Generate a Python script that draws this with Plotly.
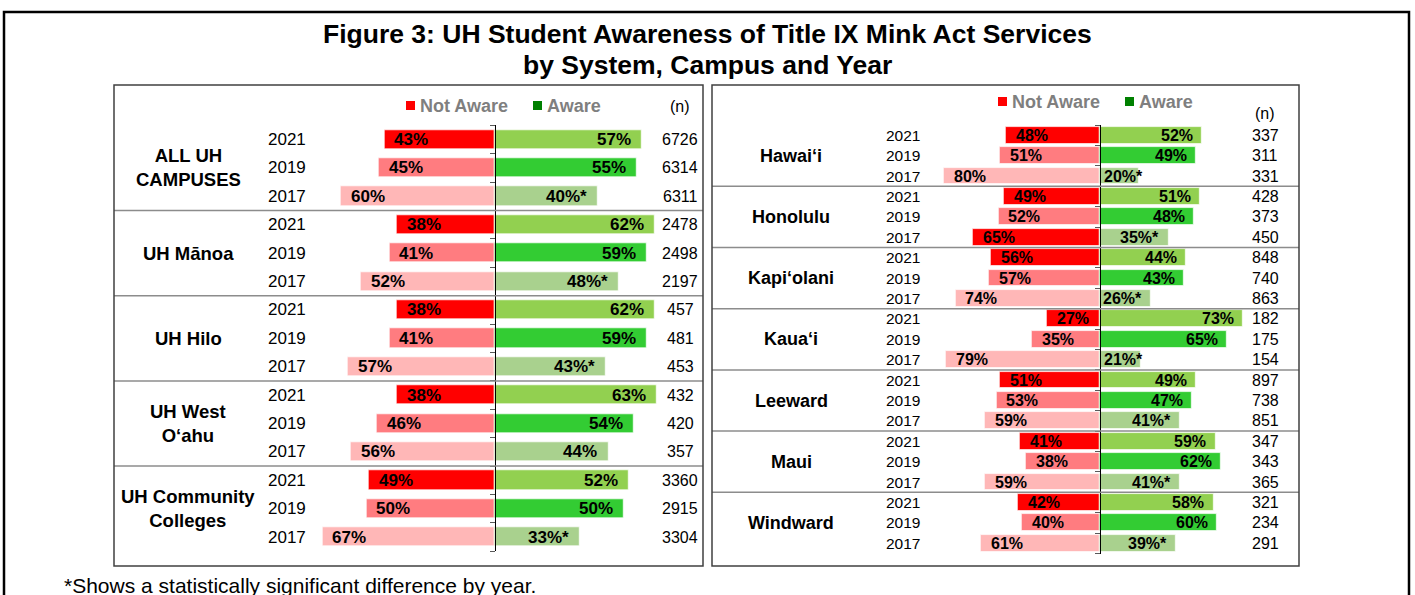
import plotly.graph_objects as go

W, H = 1415, 595
FONT = "Liberation Sans"

years = ["2021", "2019", "2017"]

# left panel: system / campus groups
left_groups = ["ALL UH<br>CAMPUSES", "UH Mānoa", "UH Hilo", "UH West<br>O‘ahu", "UH Community<br>Colleges"]
left_not_aware = [43, 45, 60, 38, 41, 52, 38, 41, 57, 38, 46, 56, 49, 50, 67]
left_aware = [57, 55, 40, 62, 59, 48, 62, 59, 43, 63, 54, 44, 52, 50, 33]
left_sig = [0, 0, 1, 0, 0, 1, 0, 0, 1, 0, 0, 0, 0, 0, 1]
left_n = [6726, 6314, 6311, 2478, 2498, 2197, 457, 481, 453, 432, 420, 357, 3360, 2915, 3304]

# right panel: community colleges
right_groups = ["Hawai‘i", "Honolulu", "Kapi‘olani", "Kaua‘i", "Leeward", "Maui", "Windward"]
right_not_aware = [48, 51, 80, 49, 52, 65, 56, 57, 74, 27, 35, 79, 51, 53, 59, 41, 38, 59, 42, 40, 61]
right_aware = [52, 49, 20, 51, 48, 35, 44, 43, 26, 73, 65, 21, 49, 47, 41, 59, 62, 41, 58, 60, 39]
right_sig = [0, 0, 1] * 7
right_n = [337, 311, 331, 428, 373, 450, 848, 740, 863, 182, 175, 154, 897, 738, 851,
           347, 343, 365, 321, 234, 291]

# colours by year (2021, 2019, 2017)
na_colors = ["#FF0000", "#FF7C80", "#FFB7B7"]
aw_colors = ["#92D050", "#33CC33", "#A9D18E"]
na_override = {("Honolulu", 2): "#FF0000"}


def px(x):
    return x / W


def py(y):
    return 1 - y / H


def dom_x(center, scale, half):
    return [px(center - scale * half), px(center + scale * half)]


def dom_y(first, step, rows):
    return [py(first + step * (rows - 0.5)), py(first - step * 0.5)]


# panel geometry (pixels)
L = dict(center=495, scale=2.575, half=70, first=139.5, step=28.4, box=(114, 85, 703, 566),
         year_x=287, group_x=188, n_x=680, nhead_y=106, leg_y=106, leg_x=406,
         pct=17, yr=17, grp=18.5, nfs=16, bw=0.67, na_shift=8, aw_shift=-9)
R = dict(center=1100, scale=1.955, half=85, first=135.3, step=20.4, box=(712, 85, 1299, 566),
         year_x=903, group_x=791, n_x=1265, nhead_y=113, leg_y=102, leg_x=998,
         pct=16, yr=15.5, grp=18, nfs=16, bw=0.82, na_shift=8, aw_shift=-7)

fig = go.Figure()
annotations = []
shapes = []


def note(**kw):
    kw.setdefault("xanchor", "center")
    kw.setdefault("yanchor", "middle")
    kw.setdefault("showarrow", False)
    annotations.append(kw)


def add_panel(P, groups, na, aw, sig, nvals, xa, ya):
    rows = len(na)
    ys = list(range(rows))
    ncol = []
    for i in ys:
        c = na_colors[i % 3]
        c = na_override.get((groups[i // 3], i % 3), c)
        ncol.append(c)
    acol = [aw_colors[i % 3] for i in ys]
    fig.add_trace(go.Bar(x=[-v for v in na], y=ys, orientation="h", width=P["bw"],
                         marker=dict(color=ncol, line=dict(color="rgba(255,255,255,0.7)", width=1)),
                         xaxis=xa, yaxis=ya, showlegend=False, hoverinfo="skip"))
    fig.add_trace(go.Bar(x=aw, y=ys, orientation="h", width=P["bw"],
                         marker=dict(color=acol, line=dict(color="rgba(255,255,255,0.7)", width=1)),
                         xaxis=xa, yaxis=ya, showlegend=False, hoverinfo="skip"))

    for i in ys:
        pf = dict(family=FONT, size=P["pct"], color="black")
        note(x=-na[i], y=i, xref=xa, yref=ya, text=f"<b>{na[i]}%</b>",
             xanchor="left", xshift=P["na_shift"], font=pf)
        lab = f"<b>{aw[i]}%{'*' if sig[i] else ''}</b>"
        if aw[i] * P["scale"] < 48:
            note(x=0, y=i, xref=xa, yref=ya, text=lab, xanchor="left", xshift=2, font=pf)
        else:
            note(x=aw[i], y=i, xref=xa, yref=ya, text=lab, xanchor="right",
                 xshift=P["aw_shift"], font=pf)
        note(x=px(P["year_x"]), y=i, xref="paper", yref=ya, text=years[i % 3],
             font=dict(family=FONT, size=P["yr"], color="black"))
        note(x=px(P["n_x"]), y=i, xref="paper", yref=ya, text=str(nvals[i]),
             font=dict(family=FONT, size=P["nfs"], color="black"))
    for g, name in enumerate(groups):
        note(x=px(P["group_x"]), y=g * 3 + 1, xref="paper", yref=ya, text=f"<b>{name}</b>",
             font=dict(family=FONT, size=P["grp"], color="black"))
        if g > 0:
            shapes.append(dict(type="line", xref="paper", yref=ya, x0=px(P["box"][0]), x1=px(P["box"][2]),
                               y0=g * 3 - 0.5, y1=g * 3 - 0.5, line=dict(color="#8C8C8C", width=1.5)))
    # panel box
    x0, y0, x1, y1 = P["box"]
    shapes.append(dict(type="rect", xref="paper", yref="paper", x0=px(x0), x1=px(x1), y0=py(y0), y1=py(y1),
                       line=dict(color="#404040", width=1.5)))
    # legend
    lx, ly = P["leg_x"], P["leg_y"]
    shapes.append(dict(type="rect", xref="paper", yref="paper", x0=px(lx), x1=px(lx + 9),
                       y0=py(ly - 5), y1=py(ly + 4), line=dict(width=0), fillcolor="#FF0000"))
    note(x=px(lx + 12), y=py(ly), xref="paper", yref="paper", xanchor="left",
         text="<b>Not Aware</b>", font=dict(family=FONT, size=18, color="#7F7F7F"))
    gx = lx + 127
    shapes.append(dict(type="rect", xref="paper", yref="paper", x0=px(gx), x1=px(gx + 9),
                       y0=py(ly - 5), y1=py(ly + 4), line=dict(width=0), fillcolor="#008000"))
    note(x=px(gx + 12), y=py(ly), xref="paper", yref="paper", xanchor="left",
         text="<b>Aware</b>", font=dict(family=FONT, size=18, color="#7F7F7F"))
    note(x=px(P["n_x"]), y=py(P["nhead_y"]), xref="paper", yref="paper",
         text="(n)", font=dict(family=FONT, size=16, color="black"))


add_panel(L, left_groups, left_not_aware, left_aware, left_sig, left_n, "x", "y")
add_panel(R, right_groups, right_not_aware, right_aware, right_sig, right_n, "x2", "y2")


def yaxis_cfg(P, rows):
    dx = dom_x(P["center"], P["scale"], P["half"])
    return dict(domain=dom_y(P["first"], P["step"], rows), range=[rows - 0.5, -0.5],
                anchor="free", position=(dx[0] + dx[1]) / 2,
                showline=True, linecolor="black", linewidth=1, ticks="outside",
                tickvals=[i - 0.5 for i in range(rows + 1)], ticklen=5, tickcolor="#595959",
                showticklabels=False, showgrid=False, zeroline=False, fixedrange=True)


def xaxis_cfg(P, ya):
    return dict(domain=dom_x(P["center"], P["scale"], P["half"]), range=[-P["half"], P["half"]],
                anchor=ya, visible=False, fixedrange=True)


# outer frame and titles
shapes.append(dict(type="rect", xref="paper", yref="paper", x0=px(4), x1=px(1409), y0=py(12), y1=py(610),
                   line=dict(color="black", width=2.5)))
title_font = dict(family=FONT, size=26.5, color="black")
note(x=0.5, y=py(34), xref="paper", yref="paper", font=title_font,
     text="<b>Figure 3: UH Student Awareness of Title IX Mink Act Services</b>")
note(x=0.5, y=py(65), xref="paper", yref="paper", font=title_font,
     text="<b>by System, Campus and Year</b>")
note(x=px(62), y=py(585), xref="paper", yref="paper", xanchor="left",
     text="*Shows a statistically significant difference by year.",
     font=dict(family=FONT, size=21, color="black"))

fig.update_layout(
    width=W, height=H, margin=dict(l=0, r=0, t=0, b=0),
    paper_bgcolor="white", plot_bgcolor="white",
    barmode="relative", bargap=0,
    xaxis=xaxis_cfg(L, "y"), yaxis=yaxis_cfg(L, len(left_n)),
    xaxis2=xaxis_cfg(R, "y2"), yaxis2=yaxis_cfg(R, len(right_n)),
    annotations=annotations, shapes=shapes,
    font=dict(family=FONT, color="black"),
)

# drop the default page margin so the figure sits at the window's corner
fig.write_html("out.html", config={"displayModeBar": False},
               post_script="document.body.style.margin='0';")
